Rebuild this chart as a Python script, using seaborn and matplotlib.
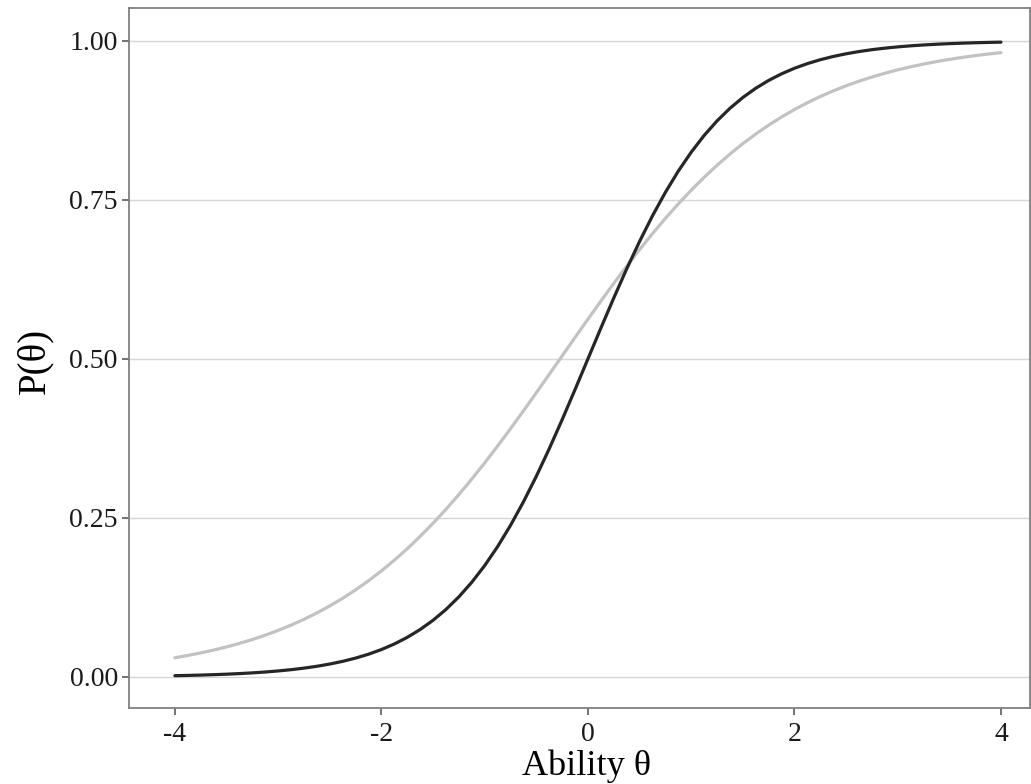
import matplotlib
matplotlib.use("Agg")
import matplotlib.pyplot as plt
import seaborn as sns
import pandas as pd

# Ability grid (step 0.125) and item characteristic curves for two items
theta = [i / 8 for i in range(-32, 33)]

p_item1 = [0.00203, 0.00246, 0.00298, 0.00362, 0.00439, 0.00532, 0.00645, 0.00782,
           0.00947, 0.01147, 0.01389, 0.01681, 0.02034, 0.02457, 0.02967, 0.03579,
           0.04311, 0.05184, 0.06224, 0.07455, 0.08907, 0.10610, 0.12593, 0.14883,
           0.17508, 0.20485, 0.23822, 0.27513, 0.31540, 0.35864, 0.40432, 0.45172,
           0.50000,
           0.54828, 0.59568, 0.64136, 0.68460, 0.72487, 0.76178, 0.79515, 0.82492,
           0.85117, 0.87407, 0.89390, 0.91093, 0.92545, 0.93776, 0.94816, 0.95689,
           0.96421, 0.97033, 0.97543, 0.97966, 0.98319, 0.98611, 0.98853, 0.99053,
           0.99218, 0.99355, 0.99468, 0.99561, 0.99638, 0.99702, 0.99754, 0.99797]

p_item2 = [0.03021, 0.03381, 0.03782, 0.04228, 0.04725, 0.05277, 0.05889, 0.06567,
           0.07318, 0.08146, 0.09059, 0.10064, 0.11166, 0.12372, 0.13689, 0.15121,
           0.16674, 0.18352, 0.20159, 0.22095, 0.24161, 0.26354, 0.28672, 0.31106,
           0.33650, 0.36293, 0.39022, 0.41820, 0.44673, 0.47561, 0.50465, 0.53366,
           0.56245, 0.59082, 0.61860, 0.64562, 0.67175, 0.69685, 0.72083, 0.74362,
           0.76515, 0.78539, 0.80433, 0.82198, 0.83836, 0.85350, 0.86745, 0.88026,
           0.89198, 0.90268, 0.91243, 0.92128, 0.92931, 0.93657, 0.94314, 0.94906,
           0.95440, 0.95920, 0.96351, 0.96739, 0.97086, 0.97398, 0.97676, 0.97926,
           0.98150]

items = ["Item 1", "Item 2"]
item_colors = ["#262626", "#c2c2c2"]

x_ticks = [-4, -2, 0, 2, 4]
y_ticks = [0.0, 0.25, 0.5, 0.75, 1.0]
y_tick_labels = ["0.00", "0.25", "0.50", "0.75", "1.00"]

df = pd.DataFrame({
    "theta": theta * 2,
    "p": p_item1 + p_item2,
    "item": [items[0]] * len(theta) + [items[1]] * len(theta),
})

sns.set_theme(style="white")
plt.rcParams["font.family"] = ["Liberation Serif", "DejaVu Serif"]

fig = plt.figure(figsize=(10.31, 7.84), dpi=100)
ax = fig.add_axes([0.125, 0.097, 0.874, 0.893])

ax.set_axisbelow(True)
ax.yaxis.grid(True, color="#d6d6d6", linewidth=1.0)
ax.xaxis.grid(False)

# lighter curve first so the dark one sits on top
sns.lineplot(data=df, x="theta", y="p", hue="item", hue_order=items[::-1],
             palette=dict(zip(items, item_colors)), linewidth=2.3,
             legend=False, ax=ax)

ax.set_xlim(-4.4455, 4.281)
ax.set_ylim(-0.0487, 1.0519)
ax.set_xticks(x_ticks)
ax.set_xticklabels([str(t) for t in x_ticks])
ax.set_yticks(y_ticks)
ax.set_yticklabels(y_tick_labels)

for side in ["left", "right", "top", "bottom"]:
    ax.spines[side].set_visible(True)
    ax.spines[side].set_color("#808080")
    ax.spines[side].set_linewidth(1.3)

ax.tick_params(axis="both", which="major", length=5, width=1.1, color="#4d4d4d",
               labelsize=20, labelcolor="#1a1a1a", direction="out",
               bottom=True, left=True)
ax.tick_params(axis="x", pad=5)
ax.tick_params(axis="y", pad=3)

ax.set_xlabel("Ability θ", fontsize=26, color="#000000")
ax.set_ylabel("P(θ)", fontsize=28, color="#000000")
ax.xaxis.set_label_coords(0.508, -0.059)
ax.yaxis.set_label_coords(-0.0844, 0.4957)

fig.savefig("out.png", dpi=100)
